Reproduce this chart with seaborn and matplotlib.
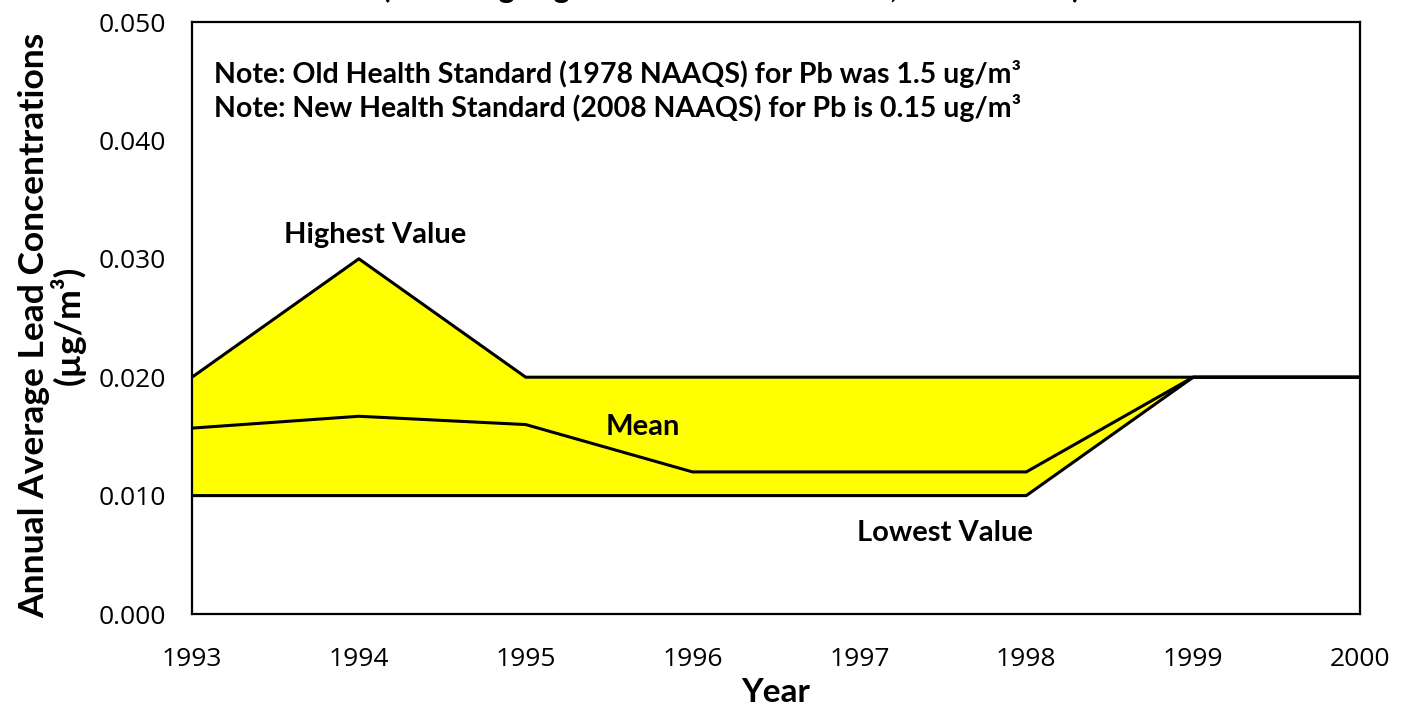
import numpy as np
import pandas as pd
import seaborn as sns
import matplotlib.pyplot as plt

# Values
years = [1993, 1994, 1995, 1996, 1997, 1998, 1999, 2000]
highest = [0.020, 0.030, 0.020, 0.020, 0.020, 0.020, 0.020, 0.020]
lowest = [0.010, 0.010, 0.010, 0.010, 0.010, 0.010, 0.020, 0.020]
mean = [0.0157, 0.0167, 0.0160, 0.0120, 0.0120, 0.0120, 0.020, 0.020]

y_ticks = [0.000, 0.010, 0.020, 0.030, 0.040, 0.050]
notes = ["Note: Old Health Standard (1978 NAAQS) for Pb was 1.5 ug/m\u00b3",
         "Note: New Health Standard (2008 NAAQS) for Pb is 0.15 ug/m\u00b3"]

lead = pd.DataFrame({"Year": years, "Highest": highest, "Lowest": lowest, "Mean": mean})

sns.set_style("white")
plt.rcParams['font.family'] = ['Lato', 'DejaVu Sans']
plt.rcParams['text.color'] = 'black'
plt.rcParams['axes.labelcolor'] = 'black'
plt.rcParams['xtick.color'] = 'black'
plt.rcParams['ytick.color'] = 'black'

fig = plt.figure(figsize=(14.06, 7.07), dpi=100)
ax = fig.add_axes([192 / 1406, 1 - 614 / 707, (1360 - 192) / 1406, (614 - 22) / 707])

ax.fill_between(lead["Year"], lead["Lowest"], lead["Highest"], color="#FFFF00", linewidth=0)
for col in ["Highest", "Mean", "Lowest"]:
    sns.lineplot(data=lead, x="Year", y=col, ax=ax, color="black", linewidth=2.2)

ax.set_xlim(1993, 2000)
ax.set_ylim(0, 0.05)
ax.set_xticks(years)
ax.set_yticks(y_ticks)
ax.set_yticklabels([f"{v:.3f}" for v in y_ticks])
ax.set_xticklabels([str(y) for y in years])
for lbl in ax.get_xticklabels() + ax.get_yticklabels():
    lbl.set_fontfamily("Open Sans")
    lbl.set_fontsize(19)
ax.tick_params(axis="both", direction="out", length=7, width=1.2, color="black")
ax.tick_params(axis="y", pad=12)
ax.tick_params(axis="x", pad=17)

for side in ["left", "right", "top", "bottom"]:
    ax.spines[side].set_color("black")
    ax.spines[side].set_linewidth(1.6)

ax.set_xlabel("Year", fontsize=24, fontweight="bold", labelpad=4)
ax.set_ylabel("Annual Average Lead Concentrations\n(\u00b5g/m\u00b3)", fontsize=25.5,
              fontweight="bold", labelpad=9, linespacing=1.0)
ax.yaxis.label.set_y(0.488)

ax.text(0.019, 0.912, notes[0], transform=ax.transAxes, fontsize=20.5, fontweight="bold", va="center")
ax.text(0.019, 0.855, notes[1], transform=ax.transAxes, fontsize=20.5, fontweight="bold", va="center")

ax.text(1994.1, 0.0320, "Highest Value", fontsize=21, fontweight="bold", ha="center", va="center")
ax.text(1995.7, 0.0158, "Mean", fontsize=21, fontweight="bold", ha="center", va="center")
ax.text(1997.51, 0.00685, "Lowest Value", fontsize=21, fontweight="bold", ha="center", va="center")

# title sits mostly above the visible area, as in the reference
fig.text(0.52, 1 + 2 / 707, "(Including Highest and Lowest Values, 1993 - 2000)", fontsize=22,
         fontweight="bold", ha="center", va="baseline")

fig.savefig("out.png", dpi=100)
